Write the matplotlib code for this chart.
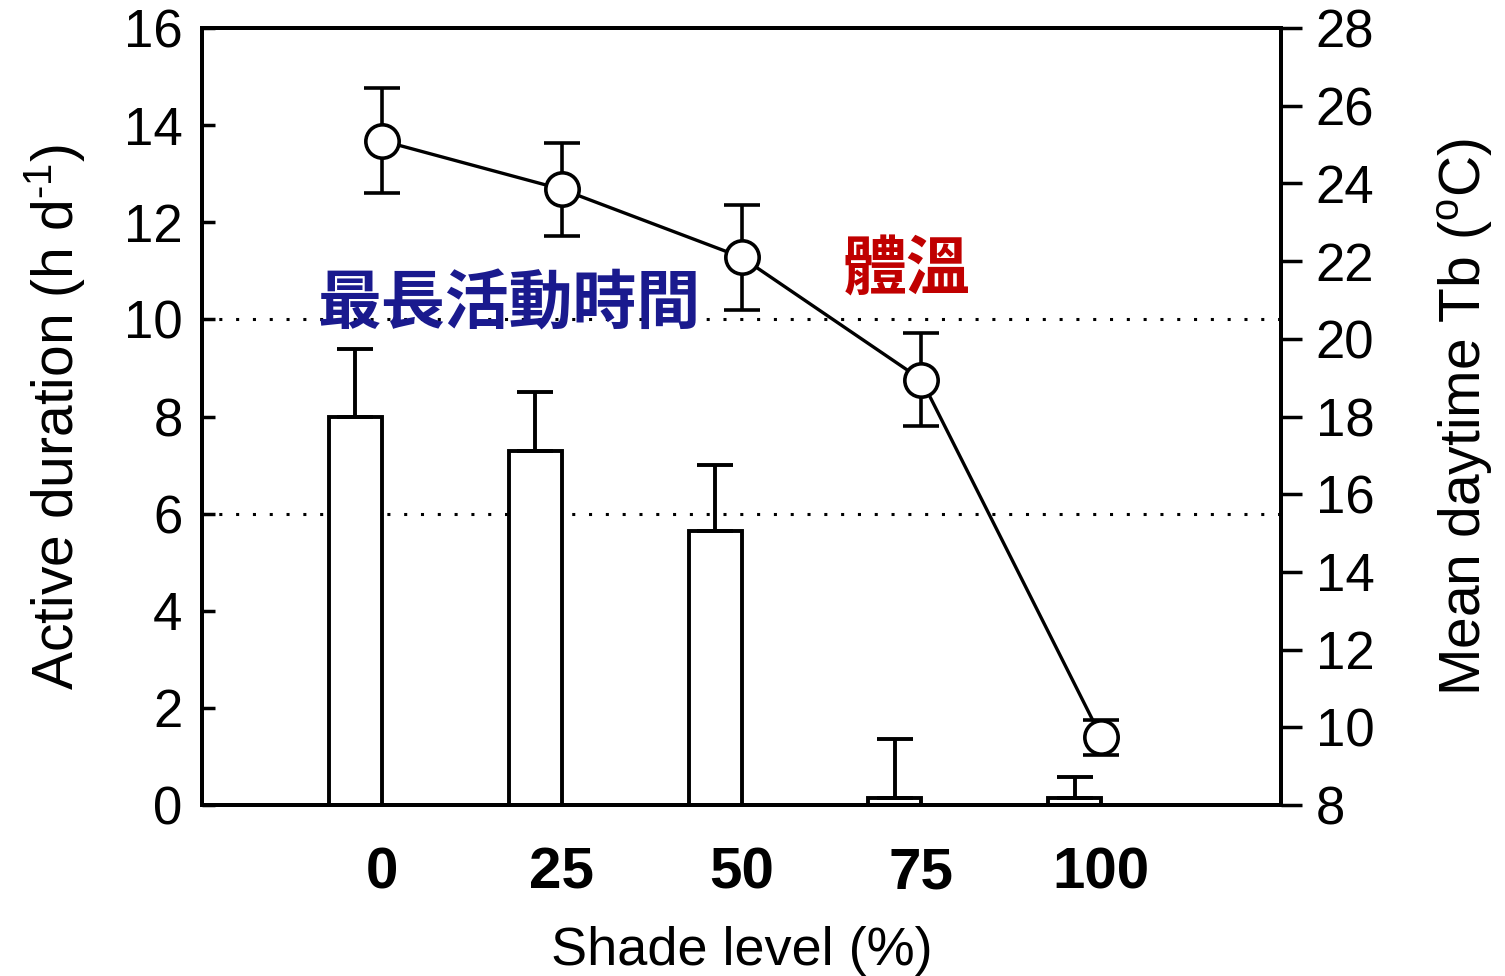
import numpy as np
import matplotlib
matplotlib.use("Agg")
import matplotlib.pyplot as plt

plt.rcParams['font.family'] = ['Liberation Sans', 'DejaVu Sans']
plt.rcParams['mathtext.fontset'] = 'custom'
plt.rcParams['mathtext.rm'] = 'Liberation Sans'

# data
shade = ['0', '25', '50', '75', '100']
active_mean = [8.0, 7.3, 5.65, 0.15, 0.15]
active_err = [1.4, 1.2, 1.35, 1.2, 0.43]
tb_mean = [25.1, 23.85, 22.1, 18.95, 9.75]
tb_err = [1.35, 1.2, 1.35, 1.2, 0.45]
guide_lines = [10, 6]

x = np.arange(len(shade))

fig = plt.figure(figsize=(15.05, 9.76), dpi=100)
ax = fig.add_axes([0.1342, 0.1752, 0.717, 0.7961])

# bars sit left of the category position
ax.bar(x - 0.147, active_mean, width=0.294, color='white', edgecolor='black',
       linewidth=2.8, zorder=2)
ax.errorbar(x - 0.147, active_mean, yerr=[np.zeros(len(x)), active_err],
            fmt='none', ecolor='black', elinewidth=2.8, capsize=13, capthick=2.8, zorder=3)

for g in guide_lines:
    ax.axhline(g, color='black', linestyle=(0, (1, 4.5)), linewidth=2.2, zorder=1)

ax.set_xlim(-1, 5)
ax.set_ylim(0, 16)
ax.set_yticks(range(0, 17, 2))
ax.set_xticks(x)
ax.set_xticklabels(shade, fontsize=42, fontweight='bold')
ax.tick_params(axis='x', length=0, pad=30)
ax.tick_params(axis='y', direction='in', length=9, width=2.5, labelsize=38, pad=14)
for s in ax.spines.values():
    s.set_linewidth(2.8)
ax.set_xlabel('Shade level (%)', fontsize=39, labelpad=18)
ax.set_ylabel('Active duration (h d$^{\\mathregular{\u2010}1}$)', fontsize=41, labelpad=26)

ax2 = ax.twinx()
ax2.errorbar(x, tb_mean, yerr=tb_err, color='black', linewidth=2.4,
             marker='o', markersize=24, markerfacecolor='white', markeredgecolor='black',
             markeredgewidth=2.6, ecolor='black', elinewidth=2.6, capsize=13, capthick=2.6,
             zorder=4)
ax2.set_ylim(8, 28)
ax2.set_yticks(range(8, 29, 2))
ax2.tick_params(axis='y', direction='out', length=15, width=2.5, labelsize=38, pad=10)
ax2.set_ylabel('Mean daytime Tb ($^{\\mathregular{o}}$C)', fontsize=41, labelpad=44,
               rotation=90)
for s in ax2.spines.values():
    s.set_linewidth(2.8)

ax.text(0.71, 10.3, '最長活動時間', fontsize=46, fontweight='bold', color='#1a1a8e',
        family=['Noto Sans CJK TC', 'DejaVu Sans'], ha='center', va='center', zorder=5)
ax.text(2.92, 11.0, '體溫', fontsize=46, fontweight='bold', color='#c00000',
        family=['Noto Sans CJK TC', 'DejaVu Sans'], ha='center', va='center', zorder=5)

fig.savefig('out.png', dpi=100)
